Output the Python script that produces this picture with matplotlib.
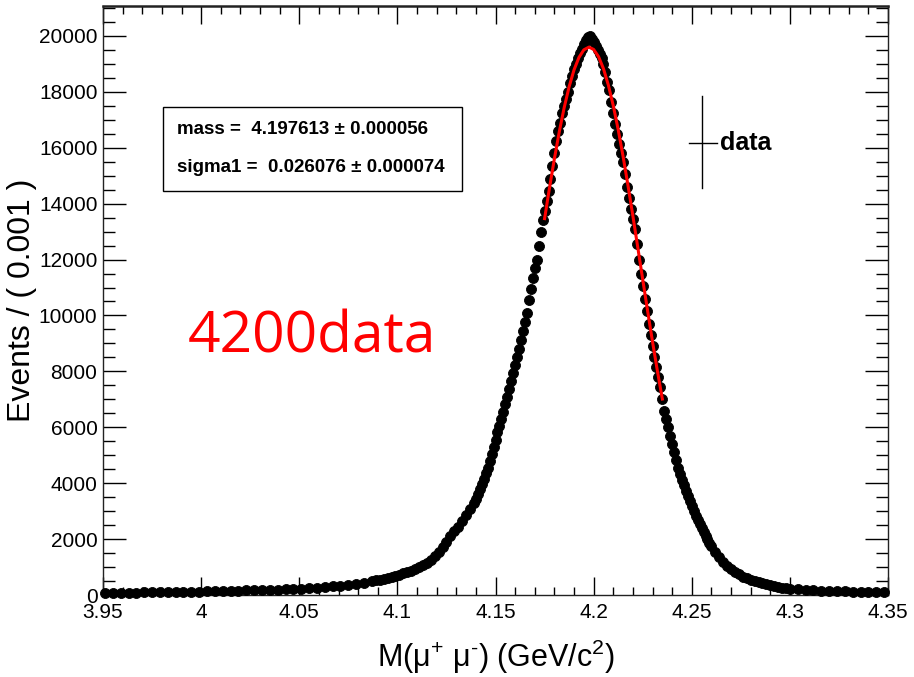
import matplotlib
matplotlib.use("Agg")
import matplotlib.pyplot as plt
from matplotlib.patches import Rectangle
from matplotlib.lines import Line2D

plt.rcParams["font.family"] = ["Liberation Sans", "DejaVu Sans"]
plt.rcParams["mathtext.fontset"] = "custom"
plt.rcParams["mathtext.rm"] = "Liberation Sans"
plt.rcParams["mathtext.it"] = "Liberation Sans:italic"
plt.rcParams["mathtext.bf"] = "Liberation Sans:bold"

# data points: flat tails, dense steep core
mass_left = [3.951, 3.955, 3.959, 3.963, 3.967, 3.971, 3.975, 3.979, 3.983, 3.987,
             3.991, 3.995, 3.999, 4.003, 4.007, 4.011, 4.015, 4.019, 4.023, 4.027,
             4.031, 4.035, 4.039, 4.043, 4.047, 4.051, 4.055, 4.059, 4.063, 4.067,
             4.071, 4.075, 4.079, 4.083, 4.087,
             4.089, 4.091, 4.093, 4.095, 4.097, 4.099, 4.101, 4.103, 4.105, 4.107,
             4.109, 4.111, 4.113, 4.115, 4.117, 4.119, 4.121, 4.123, 4.125, 4.127,
             4.129, 4.131, 4.133, 4.135, 4.137, 4.139]
events_left = [75, 78, 81, 84, 87, 90, 94, 98, 102, 107,
               112, 118, 124, 130, 136, 142, 148, 155, 162, 170,
               178, 187, 197, 208, 220, 233, 248, 265, 284, 306,
               332, 362, 398, 440, 490,
               520, 550, 580, 615, 650, 690, 730, 775, 820, 870,
               925, 990, 1060, 1140, 1250, 1380, 1530, 1700, 1900, 2100,
               2280, 2450, 2650, 2850, 3070, 3300]

mass_core = [round(4.140 + 0.001 * i, 3) for i in range(121)]
events_core = [3450, 3600, 3780, 3960, 4150, 4350, 4560, 4780, 5030, 5300,
               5560, 5820, 6060, 6300, 6560, 6830, 7100, 7380, 7660, 7950,
               8220, 8500, 8800, 9120, 9450, 9780, 10100, 10550, 10950, 11350,
               11700, 12000, 12500, 13000, 13420, 13750, 14100, 14450, 14900, 15350,
               15800, 16250, 16600, 16900, 17250, 17500, 17750, 18000, 18300, 18550,
               18800, 19000, 19200, 19400, 19550, 19700, 19850, 19950, 19980, 19900,
               19800, 19650, 19500, 19350, 19200, 19000, 18700, 18350, 18050, 17650,
               17250, 16850, 16500, 16150, 15800, 15500, 15050, 14600, 14200, 13800,
               13450, 13100, 12550, 12000, 11500, 11050, 10600, 10150, 9700, 9300,
               8900, 8500, 8150, 7800, 7450, 7000, 6600, 6300, 6000, 5700,
               5400, 5100, 4820, 4550, 4330, 4120, 3920, 3730, 3550, 3370,
               3190, 3010, 2840, 2680, 2530, 2390, 2250, 2120, 1990, 1870,
               1760]

mass_right = [4.262, 4.264, 4.266, 4.268, 4.270, 4.272, 4.274, 4.276, 4.278, 4.280,
              4.282, 4.284, 4.286, 4.288, 4.290, 4.292, 4.294, 4.296, 4.298, 4.300,
              4.304, 4.308, 4.312, 4.316, 4.320, 4.324, 4.328, 4.332, 4.336, 4.340,
              4.344, 4.348]
events_right = [1540, 1350, 1180, 1030, 920, 820, 735, 660, 595, 540,
                492, 450, 412, 380, 350, 325, 292, 260, 245, 230,
                205, 185, 168, 155, 145, 137, 130, 124, 119, 114,
                110, 106]

# red fit curve
fit_mass = [4.175, 4.1775, 4.180, 4.1825, 4.185, 4.1875, 4.190, 4.1925, 4.195, 4.1976,
            4.200, 4.2025, 4.205, 4.2075, 4.210, 4.2125, 4.215, 4.2175, 4.220, 4.2225,
            4.225, 4.2275, 4.230, 4.2325, 4.235]
fit_events = [13465, 14563, 15610, 16576, 17442, 18183, 18785, 19230, 19503, 19600,
              19517, 19257, 18828, 18238, 17505, 16648, 15688, 14649, 13554, 12426,
              11288, 10159, 9059, 8005, 7011]

x_ticks = [3.95, 4.0, 4.05, 4.1, 4.15, 4.2, 4.25, 4.3, 4.35]
x_tick_labels = ["3.95", "4", "4.05", "4.1", "4.15", "4.2", "4.25", "4.3", "4.35"]
y_ticks = [0, 2000, 4000, 6000, 8000, 10000, 12000, 14000, 16000, 18000, 20000]

fig = plt.figure(figsize=(9.14, 6.77), dpi=100)
ax = fig.add_axes([0.1127, 0.1211, 0.8589, 0.870])

mass = mass_left + mass_core + mass_right
events = events_left + events_core + events_right
ax.plot(mass, events, "o", color="black", ms=7.2, mew=0.6, mec="black",
        clip_on=False, zorder=3)
ax.plot(fit_mass, fit_events, color="red", lw=2.2, zorder=4)

ax.set_xlim(3.95, 4.35)
ax.set_ylim(0, 21070)
ax.set_xticks(x_ticks)
ax.set_xticklabels(x_tick_labels)
ax.set_yticks(y_ticks)
ax.set_yticklabels([str(v) for v in y_ticks])
ax.set_xticks([3.95 + 0.01 * i for i in range(41)], minor=True)
ax.set_yticks([500 * i for i in range(43)], minor=True)

ax.tick_params(axis="x", which="major", direction="in", length=13, width=1,
               top=True, bottom=True, labelsize=15, pad=6)
ax.tick_params(axis="x", which="minor", direction="in", length=6, width=1,
               top=True, bottom=True)
ax.tick_params(axis="y", which="major", direction="in", length=16.5, width=1,
               left=True, right=True, labelsize=15, pad=4)
ax.tick_params(axis="y", which="minor", direction="in", length=8.5, width=1,
               left=True, right=True)
for s in ax.spines.values():
    s.set_linewidth(1.0)
    s.set_color("#222222")
ax.spines["top"].set_linewidth(1.8)

ax.set_xlabel(r"M(μ$^{+}$ μ$^{\text{-}}$) (GeV/c$^{2}$)", fontsize=22)
ax.xaxis.set_label_coords(0.5, -0.072)
ax.set_ylabel("Events / ( 0.001 )", fontsize=23)
ax.yaxis.set_label_coords(-0.084, 0.5)

# fit parameter box
ax.add_patch(Rectangle((0.0764, 0.686), 0.3809, 0.1425, transform=ax.transAxes,
                       fill=False, edgecolor="black", lw=1.0, zorder=5))
ax.text(0.0943, 0.791, "mass =  4.197613 ± 0.000056", transform=ax.transAxes,
        fontsize=13.5, fontweight="bold", va="center", ha="left")
ax.text(0.0943, 0.725, "sigma1 =  0.026076 ± 0.000074", transform=ax.transAxes,
        fontsize=13.5, fontweight="bold", va="center", ha="left")

# legend: data error-bar cross
ax.add_line(Line2D([0.763, 0.763], [0.691, 0.847], transform=ax.transAxes, color="black", lw=1.0))
ax.add_line(Line2D([0.7465, 0.782], [0.767, 0.767], transform=ax.transAxes, color="black", lw=1.0))
ax.text(0.786, 0.767, "data", transform=ax.transAxes, fontsize=18,
        fontweight="bold", va="center", ha="left")

fig.text(312 / 914, 1 - 338 / 677, "4200data", color="red", fontsize=41,
         family=["Open Sans", "DejaVu Sans"], ha="center", va="center")

fig.savefig("out.png", dpi=100)
